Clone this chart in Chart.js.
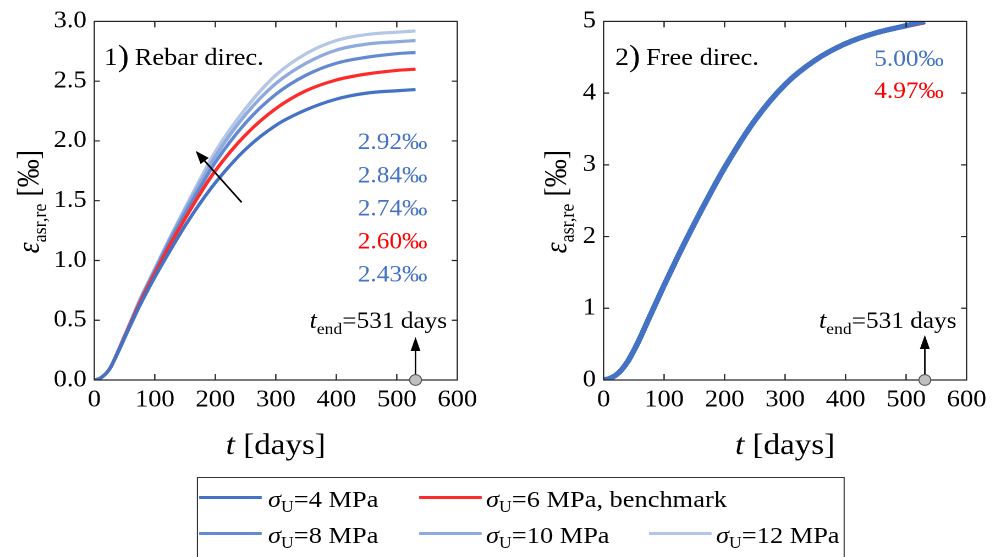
<!DOCTYPE html>
<html><head><meta charset="utf-8">
<script src="https://cdn.jsdelivr.net/npm/chart.js@4.4.1/dist/chart.umd.min.js"></script>
<style>
html,body{margin:0;padding:0;background:#fff;overflow:hidden;width:995px;height:557px;}
#wrap{position:absolute;left:0;top:0;width:905px;height:557px;transform:scaleX(1.1);transform-origin:0 0;}
#c1{position:absolute;left:0;top:0;width:450px;height:470px;}
#c2{position:absolute;left:463.4px;top:0;width:450px;height:470px;}
#legend{position:absolute;left:179.1px;top:477px;width:589px;height:100px;border:1.2px solid #333;box-sizing:border-box;font-family:'Liberation Serif',serif;font-size:24px;color:#000;}
.sw{position:absolute;height:3.2px;}
.lt{position:absolute;line-height:24px;white-space:nowrap;}
.lt sub{font-size:16px;vertical-align:baseline;position:relative;top:5px;}
</style></head>
<body>
<div id="wrap">
<canvas id="c1" width="450" height="470"></canvas>
<canvas id="c2" width="450" height="470"></canvas>
<div id="legend"></div>
</div>
<script>
// ---- data ----
const days    = [0, 10, 25, 40, 50, 60, 75, 100, 125, 150, 175, 200, 250, 300, 350, 400, 450, 500, 531];
const rebar4  = [0, 0.015, 0.09, 0.24, 0.35, 0.46, 0.62, 0.86, 1.08, 1.29, 1.48, 1.65, 1.93, 2.13, 2.26, 2.35, 2.40, 2.42, 2.43];
const rebar6  = [0, 0.015, 0.09, 0.24, 0.36, 0.47, 0.64, 0.89, 1.13, 1.35, 1.56, 1.75, 2.05, 2.27, 2.42, 2.51, 2.56, 2.59, 2.60];
const rebar8  = [0, 0.015, 0.09, 0.25, 0.36, 0.48, 0.65, 0.91, 1.16, 1.39, 1.61, 1.82, 2.15, 2.39, 2.55, 2.65, 2.70, 2.73, 2.74];
const rebar10 = [0, 0.015, 0.09, 0.25, 0.37, 0.48, 0.66, 0.92, 1.18, 1.42, 1.65, 1.87, 2.22, 2.48, 2.65, 2.76, 2.81, 2.83, 2.84];
const rebar12 = [0, 0.015, 0.09, 0.25, 0.37, 0.49, 0.67, 0.93, 1.19, 1.44, 1.68, 1.91, 2.27, 2.55, 2.73, 2.84, 2.89, 2.91, 2.92];
const freeBlue = [0, 0.02, 0.10, 0.26, 0.41, 0.58, 0.86, 1.32, 1.76, 2.18, 2.58, 2.96, 3.62, 4.12, 4.46, 4.69, 4.84, 4.94, 5.00];
const freeRed  = [0, 0.02, 0.10, 0.26, 0.41, 0.58, 0.86, 1.32, 1.76, 2.18, 2.58, 2.95, 3.61, 4.11, 4.44, 4.67, 4.82, 4.92, 4.97];
const seriesLabels = ['σU=4 MPa', 'σU=6 MPa, benchmark', 'σU=8 MPa', 'σU=10 MPa', 'σU=12 MPa'];
const stressLabels = ['4 MPa', '6 MPa, benchmark', '8 MPa', '10 MPa', '12 MPa'];
const colors = ['#4472C4', '#FF2B2B', '#6389D0', '#8FAADC', '#B4C7E7'];
const rebarEnd = ['2.92‰', '2.84‰', '2.74‰', '2.60‰', '2.43‰'];
const rebarEndColors = ['#4472C4', '#4472C4', '#4472C4', '#FF0000', '#4472C4'];
const freeEnd = ['5.00‰', '4.97‰'];
const freeEndColors = ['#4472C4', '#FF0000'];
const xTicks = [0, 100, 200, 300, 400, 500, 600];
const tEnd = 531;

const SERIF = "'Liberation Serif', serif";
const pts = arr => days.map((t, i) => ({x: t, y: arr[i]}));

function rich(ctx, parts, x, y, align) {
  let w = 0;
  const ws = parts.map(p => { ctx.font = p[1]; const m = ctx.measureText(p[0]).width; w += m; return m; });
  let cx = align === 'right' ? x - w : align === 'center' ? x - w / 2 : x;
  ctx.textBaseline = 'alphabetic'; ctx.textAlign = 'left';
  parts.forEach((p, i) => { ctx.font = p[1]; ctx.fillStyle = p[2] || '#000'; ctx.fillText(p[0], cx, y + (p[3] || 0)); cx += ws[i]; });
}

const framePlugin = {
  id: 'frame',
  afterDatasetsDraw(chart) {
    const {ctx, chartArea: a, scales: {x, y}} = chart;
    ctx.save();
    ctx.strokeStyle = '#222'; ctx.lineWidth = 1.2;
    ctx.strokeRect(a.left, a.top, a.right - a.left, a.bottom - a.top);
    ctx.beginPath();
    x.ticks.forEach(t => { const p = x.getPixelForValue(t.value); if (p <= a.left + 1 || p >= a.right - 1) return;
      ctx.moveTo(p, a.bottom); ctx.lineTo(p, a.bottom - 6); ctx.moveTo(p, a.top); ctx.lineTo(p, a.top + 6); });
    y.ticks.forEach(t => { const p = y.getPixelForValue(t.value); if (p <= a.top + 1 || p >= a.bottom - 1) return;
      ctx.moveTo(a.left, p); ctx.lineTo(a.left + 5, p); ctx.moveTo(a.right, p); ctx.lineTo(a.right - 5, p); });
    ctx.stroke();
    ctx.restore();
  }
};

function arrowHead(ctx, x1, y1, x2, y2, len, hw) {
  const ang = Math.atan2(y2 - y1, x2 - x1);
  const bx = x2 - len * Math.cos(ang), by = y2 - len * Math.sin(ang);
  ctx.beginPath();
  ctx.moveTo(x2, y2);
  ctx.lineTo(bx + hw * Math.sin(ang), by - hw * Math.cos(ang));
  ctx.lineTo(bx - hw * Math.sin(ang), by + hw * Math.cos(ang));
  ctx.closePath(); ctx.fill();
}

function makeAnnot(cfg) {
  return {
    id: 'annot',
    afterDraw(chart) {
      const {ctx, chartArea: a, scales: {x, y}} = chart;
      ctx.save();
      rich(ctx, [[cfg.num, `25px ${SERIF}`], [')', `31px ${SERIF}`, '#000', 1]], cfg.labelX, 65, 'left');
      rich(ctx, [[cfg.title, `24px ${SERIF}`]], cfg.labelX + 28, 65, 'left');
      cfg.values.forEach((v, i) => rich(ctx, [[v, `23px ${SERIF}`, cfg.valColors[i]]], cfg.valRight, cfg.valBase[i], 'right'));
      rich(ctx, [['t', `italic 24px ${SERIF}`], ['end', `16px ${SERIF}`, '#000', 6], ['=531 days', `23px ${SERIF}`]], cfg.tRight, 328, 'right');
      const px = x.getPixelForValue(tEnd), py = y.getPixelForValue(0);
      ctx.strokeStyle = '#000'; ctx.fillStyle = '#000'; ctx.lineWidth = 1.4;
      ctx.beginPath(); ctx.moveTo(px, py); ctx.lineTo(px, cfg.arrowTip + 12); ctx.stroke();
      arrowHead(ctx, px, py, px, cfg.arrowTip, 14, 4.5);
      ctx.beginPath(); ctx.arc(px, py, 5.4, 0, Math.PI * 2);
      ctx.fillStyle = '#BFBFBF'; ctx.fill(); ctx.strokeStyle = '#555'; ctx.lineWidth = 1; ctx.stroke();
      if (cfg.diag) {
        const x1 = x.getPixelForValue(cfg.diag[0]), y1 = y.getPixelForValue(cfg.diag[1]);
        const x2 = x.getPixelForValue(cfg.diag[2]), y2 = y.getPixelForValue(cfg.diag[3]);
        ctx.strokeStyle = '#000'; ctx.fillStyle = '#000'; ctx.lineWidth = 1.6;
        const ang = Math.atan2(y2 - y1, x2 - x1);
        ctx.beginPath(); ctx.moveTo(x1, y1); ctx.lineTo(x2 - 10 * Math.cos(ang), y2 - 10 * Math.sin(ang)); ctx.stroke();
        arrowHead(ctx, x1, y1, x2, y2, 13, 4.8);
      }
      ctx.translate(cfg.yTitleX, (a.top + a.bottom) / 2 + 1);
      ctx.rotate(-Math.PI / 2);
      rich(ctx, [['ε', `italic 28px ${SERIF}`], ['asr,re', `18px ${SERIF}`, '#000', 7], [' [‰]', `28px ${SERIF}`]], 0, 0, 'center');
      ctx.restore();
      ctx.save();
      rich(ctx, [['t', `italic 30px ${SERIF}`], [' [days]', `30px ${SERIF}`]], (a.left + a.right) / 2, 454, 'center');
      ctx.restore();
    }
  };
}

function makeChart(id, datasets, yMax, yStep, yFmt, annot) {
  return new Chart(document.getElementById(id), {
    type: 'line',
    data: {datasets},
    options: {
      responsive: false, animation: false, devicePixelRatio: 2,
      layout: {padding: {top: 19, right: 34.3, left: 0, bottom: 0}},
      plugins: {legend: {display: false}, tooltip: {enabled: false}},
      elements: {point: {radius: 0}, line: {cubicInterpolationMode: 'monotone'}},
      scales: {
        x: {type: 'linear', min: 0, max: 600,
            afterBuildTicks: s => { s.ticks = xTicks.map(v => ({value: v})); },
            ticks: {font: {family: SERIF, size: 24}, color: '#000', padding: 6, maxRotation: 0, autoSkip: false},
            grid: {display: false, drawTicks: false, tickLength: 0}, border: {display: false},
            afterFit: s => { s.height = 90; }},
        y: {type: 'linear', min: 0, max: yMax,
            ticks: {stepSize: yStep, font: {family: SERIF, size: 24}, color: '#000', padding: 7, callback: yFmt},
            grid: {display: false, drawTicks: false, tickLength: 0}, border: {display: false},
            afterFit: s => { s.width = 85.7; }}
      }
    },
    plugins: [framePlugin, annot]
  });
}

const rebarSets = [rebar4, rebar6, rebar8, rebar10, rebar12].map((arr, i) => ({
  label: seriesLabels[i], data: pts(arr), borderColor: colors[i], borderWidth: 3.2, fill: false
}));
makeChart('c1', rebarSets, 3, 0.5, v => v.toFixed(1), makeAnnot({
  num: '1', title: 'Rebar direc.', labelX: 94.5, values: rebarEnd, valColors: rebarEndColors,
  valRight: 388.5, valBase: [149, 182.5, 215.5, 248.5, 281.5], tRight: 406.5, arrowTip: 337,
  diag: [243.6, 1.486, 167.6, 1.917], yTitleX: 35
}));

const freeSets = [freeBlue, freeRed, freeBlue, freeBlue, freeBlue].map((arr, i) => ({
  label: seriesLabels[i], data: pts(arr), borderColor: colors[0], borderWidth: 5, fill: false
}));
freeSets[1].borderColor = colors[1];
freeSets[1].borderWidth = 2;
makeChart('c2', freeSets, 5, 1, v => String(v), makeAnnot({
  num: '2', title: 'Free direc.', labelX: 96.3, values: freeEnd, valColors: freeEndColors,
  valRight: 395, valBase: [66, 98], tRight: 406.6, arrowTip: 335, diag: null, yTitleX: 51.5
}));

// legend (HTML, real text)
const lg = document.getElementById('legend');
const cols = [[0.9, 63.6], [200.9, 261.8], [410, 470.9]];
const slots = [[0, 0], [0, 1], [1, 0], [1, 1], [1, 2]];
stressLabels.forEach((txt, i) => {
  const [row, col] = slots[i];
  const sw = document.createElement('div');
  sw.className = 'sw';
  sw.style.left = cols[col][0] + 'px'; sw.style.width = '57px';
  sw.style.top = (row ? 53.5 : 17.5) + 'px'; sw.style.background = colors[i];
  lg.appendChild(sw);
  const t = document.createElement('div');
  t.className = 'lt';
  t.style.left = cols[col][1] + 'px'; t.style.top = (row ? 44.9 : 8.9) + 'px';
  t.innerHTML = '<i>σ</i><sub>U</sub>=' + txt;
  lg.appendChild(t);
});
</script>
</body></html>
